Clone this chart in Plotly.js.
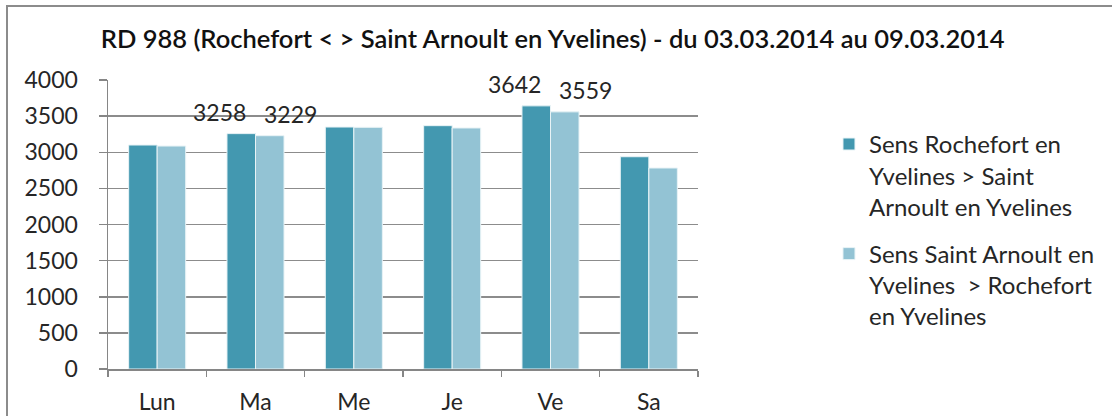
<!DOCTYPE html>
<html>
<head>
<meta charset="utf-8">
<script src="https://cdn.plot.ly/plotly-3.0.1.min.js"></script>
<style>
  html, body { margin: 0; padding: 0; background: #fff; }
  #wrap { position: relative; width: 1112px; height: 416px; }
  #chart { width: 1112px; height: 416px; }
  #frame { position: absolute; left: 6px; top: 5px; width: 1112px; height: 420px;
           border-top: 2px solid #8c8c8c; border-left: 2px solid #8c8c8c; pointer-events: none; }
</style>
</head>
<body>
<div id="wrap">
  <div id="chart"></div>
  <div id="frame"></div>
</div>
<script>
const days = ["Lun", "Ma", "Me", "Je", "Ve", "Sa"];
const sensRochefort = [3100, 3258, 3349, 3368, 3642, 2938];
const sensSaintArnoult = [3086, 3229, 3345, 3336, 3559, 2782];
const seriesNames = [
  "Sens Rochefort en<br>Yvelines > Saint<br>Arnoult en Yvelines",
  "Sens Saint Arnoult en<br>Yvelines  > Rochefort<br>en Yvelines"
];
const labeledDays = ["Ma", "Ve"];
const yTicks = [0, 500, 1000, 1500, 2000, 2500, 3000, 3500, 4000];
const titleText = "RD 988 (Rochefort < > Saint Arnoult en Yvelines) - du 03.03.2014 au 09.03.2014";

const font = "Lato, 'Open Sans', sans-serif";
const colors = ["#4398b0", "#93c3d4"];

const traces = [sensRochefort, sensSaintArnoult].map((vals, i) => ({
  type: "bar",
  x: days,
  y: vals,
  name: seriesNames[i],
  legendgroup: "g" + i,
  marker: { color: colors[i], line: { color: "#e8f3f6", width: 1 } },
  hoverinfo: "x+y"
}));

const annotations = [];
labeledDays.forEach(d => {
  const idx = days.indexOf(d);
  [sensRochefort, sensSaintArnoult].forEach((vals, i) => {
    annotations.push({
      x: d, y: vals[idx], xref: "x", yref: "y",
      text: String(vals[idx]), showarrow: false,
      xshift: i === 0 ? -36 : 35, yshift: 22,
      yanchor: "middle", xanchor: "center",
      font: { family: font, size: 23, color: "#262626" }
    });
  });
});

const layout = {
  width: 1112, height: 416,
  margin: { l: 108, r: 408, t: 80, b: 47 },
  paper_bgcolor: "#fff", plot_bgcolor: "#fff",
  title: {
    text: titleText,
    x: 0.497, xanchor: "center", y: 0.905, yanchor: "middle",
    font: { family: font, size: 25.5, color: "#111", weight: 600 }
  },
  barmode: "group",
  bargap: 0.42,
  bargroupgap: 0,
  xaxis: {
    type: "category",
    tickson: "boundaries",
    ticks: "outside", ticklen: 6, tickwidth: 1.5, tickcolor: "#868686",
    ticklabelstandoff: 12,
    showline: true, linecolor: "#868686", linewidth: 1.5,
    showgrid: false,
    tickfont: { family: font, size: 23, color: "#262626" },
    fixedrange: true
  },
  yaxis: {
    range: [0, 4000],
    tickvals: yTicks,
    ticks: "outside", ticklen: 8, tickwidth: 1.5, tickcolor: "#868686",
    ticklabelstandoff: 16,
    showline: true, linecolor: "#868686", linewidth: 1.5,
    showgrid: true, gridcolor: "#8c8c8c", gridwidth: 1.5,
    zeroline: false,
    tickfont: { family: font, size: 23, color: "#262626" },
    fixedrange: true
  },
  showlegend: true,
  legend: {
    x: 1.222, xanchor: "left", y: 0.855, yanchor: "top",
    font: { family: font, size: 24, color: "#262626" },
    tracegroupgap: 13,
    valign: "top",
    traceorder: "grouped",
    bgcolor: "rgba(0,0,0,0)"
  },
  annotations: annotations
};

Plotly.newPlot("chart", traces, layout, { displayModeBar: false, staticPlot: true });
</script>
</body>
</html>
